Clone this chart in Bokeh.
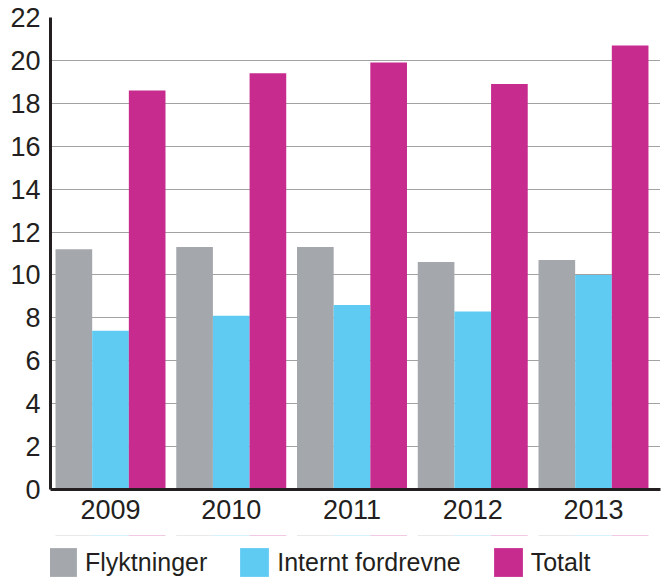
from bokeh.plotting import figure
from bokeh.models import Range1d, FixedTicker, Legend, LegendItem, ColumnDataSource
from bokeh.layouts import column
from bokeh.embed import file_html
from bokeh.resources import INLINE
import numpy as np

years = ["2009", "2010", "2011", "2012", "2013"]
series_names = ["Flyktninger", "Internt fordrevne", "Totalt"]
flyktninger = [11.2, 11.3, 11.3, 10.6, 10.7]
internt_fordrevne = [7.4, 8.1, 8.6, 8.3, 10.0]
totalt = [18.6, 19.4, 19.9, 18.9, 20.7]
y_ticks = [0, 2, 4, 6, 8, 10, 12, 14, 16, 18, 20, 22]

colors = ["#a4a7ab", "#5fcbf3", "#c82b8e"]
FONT = "Liberation Sans"
TXT = "#231f20"

p = figure(width=662, height=535, output_backend="svg", toolbar_location=None,
           x_range=Range1d(-0.497, 4.555), y_range=Range1d(0, 22),
           min_border_left=50, min_border_right=2, min_border_top=17,
           min_border_bottom=46)
p.outline_line_color = None
p.background_fill_color = "white"

x = np.arange(len(years))
bw = 0.3036
sources = []
for i, (vals, c) in enumerate(zip([flyktninger, internt_fordrevne, totalt], colors)):
    src = ColumnDataSource(dict(x=x + (i - 1) * bw, top=vals))
    sources.append(src)
    p.vbar(x="x", top="top", width=bw, bottom=0, source=src,
           fill_color=c, line_color=None)

p.xaxis.ticker = FixedTicker(ticks=list(x))
p.xaxis.major_label_overrides = {int(i): y for i, y in zip(x, years)}
p.yaxis.ticker = FixedTicker(ticks=y_ticks)

for ax in (p.xaxis[0], p.yaxis[0]):
    ax.axis_line_width = 3
    ax.axis_line_color = TXT
    ax.major_tick_line_color = None
    ax.minor_tick_line_color = None
    ax.major_tick_out = 0
    ax.minor_tick_out = 0
    ax.major_label_text_font = FONT
    ax.major_label_text_font_size = "27px"
    ax.major_label_text_color = TXT
p.xaxis.major_label_standoff = 10
p.yaxis.major_label_standoff = 10

p.xgrid.grid_line_color = None
p.ygrid.grid_line_color = "#444444"
p.ygrid.grid_line_dash = "1 1"
p.ygrid.grid_line_width = 1

# legend strip: its renderers share the series data but have zero height, so only the legend shows
lg = figure(width=662, height=44, output_backend="svg", toolbar_location=None,
            x_range=Range1d(-0.497, 4.555), y_range=Range1d(-2, -1),
            min_border_left=0, min_border_right=0, min_border_top=0, min_border_bottom=0,
            x_axis_type=None, y_axis_type=None)
lg.outline_line_color = None
lg.xgrid.grid_line_color = None
lg.ygrid.grid_line_color = None
items = []
for n, c, src in zip(series_names, colors, sources):
    r = lg.vbar(x="x", top="top", bottom="top", width=bw, source=src,
                fill_color=c, line_color=None)
    items.append(LegendItem(label=n, renderers=[r]))
legend = Legend(items=items, orientation="horizontal", location=(-6, -1),
                glyph_width=36, glyph_height=36, label_standoff=5, spacing=29,
                padding=0, margin=0, border_line_color=None,
                background_fill_alpha=0,
                label_text_font=FONT, label_text_font_size="25px",
                label_text_color=TXT, label_height=29)
lg.add_layout(legend, "center")

layout = column(p, lg, spacing=0)
open("out.html", "w").write(file_html(layout, INLINE))
